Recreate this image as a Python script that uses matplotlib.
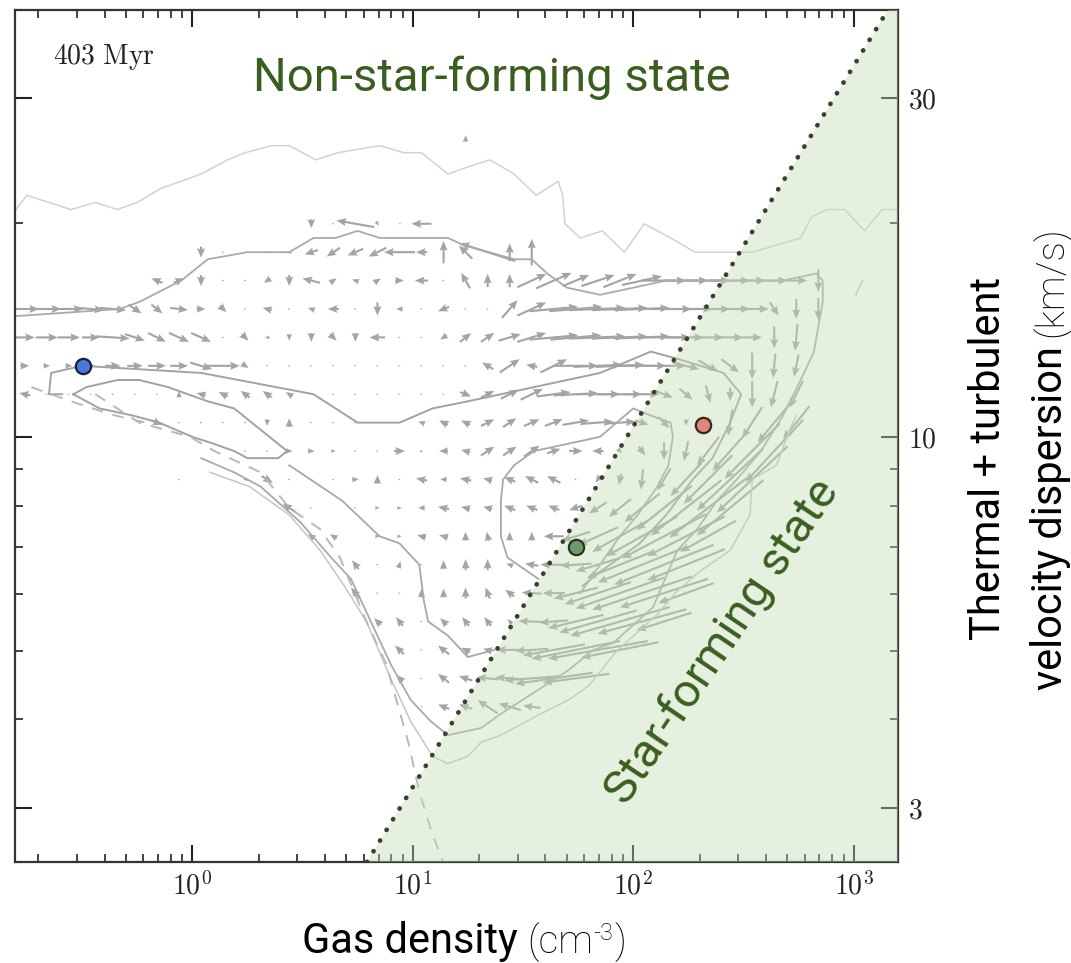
import numpy as np
import matplotlib
matplotlib.use('Agg')
import matplotlib.pyplot as plt
from matplotlib.ticker import FixedLocator, FixedFormatter, LogLocator, NullFormatter

plt.rcParams['font.family'] = ['Roboto', 'DejaVu Sans']
plt.rcParams['mathtext.fontset'] = 'cm'

W, H = 1071, 963

# axis ranges (cm^-3, km/s)
n_lim = (0.157, 1590)
sigma_lim = (2.52, 39.9)

# star-formation threshold, read where it meets the frame
threshold_n = [6.2, 1430]
threshold_sigma = [2.52, 39.9]

# tracked gas parcels
parcel_n = [0.32, 55, 208]
parcel_sigma = [12.6, 7.0, 10.4]
parcel_color = ['#4a78d8', '#6c9a69', '#e08878']
parcel_edge = ['#14203a', '#24351f', '#3a2420']

# density contours, (log10 n, log10 sigma)
contour_outer = [(-0.80, 1.32), (-0.75, 1.34), (-0.55, 1.32), (-0.44, 1.33), (-0.34, 1.32),
                 (-0.25, 1.33), (-0.14, 1.35), (0.04, 1.37), (0.16, 1.39), (0.24, 1.40),
                 (0.36, 1.41), (0.44, 1.41), (0.56, 1.39), (0.66, 1.40), (0.85, 1.41),
                 (0.96, 1.40), (1.04, 1.40), (1.16, 1.37), (1.25, 1.38), (1.35, 1.39),
                 (1.46, 1.37), (1.56, 1.34), (1.66, 1.36), (1.68, 1.34), (1.69, 1.30),
                 (1.76, 1.28), (1.86, 1.29), (1.96, 1.26), (2.05, 1.30), (2.17, 1.28),
                 (2.28, 1.26), (2.36, 1.26), (2.49, 1.26), (2.54, 1.26), (2.76, 1.28),
                 (2.81, 1.31), (2.88, 1.32), (2.96, 1.32), (3.05, 1.29), (3.13, 1.32), (3.20, 1.32)]
contour_outer_low = [(2.74, 1.03), (2.71, 1.01), (2.65, 0.96), (2.54, 0.94), (2.53, 0.89),
                     (2.44, 0.84), (2.30, 0.81), (2.19, 0.78), (2.11, 0.75), (1.93, 0.70),
                     (1.80, 0.65), (1.71, 0.63), (1.58, 0.61), (1.40, 0.58), (1.31, 0.57),
                     (1.25, 0.55), (1.16, 0.54), (1.09, 0.55), (0.99, 0.60), (0.90, 0.66),
                     (0.79, 0.74), (0.69, 0.79), (0.58, 0.84), (0.44, 0.89), (0.26, 0.93),
                     (0.08, 0.95)]
contour_outer_right = [(3.04, 1.22), (3.01, 1.20)]
contour_mid = [(-0.80, 1.17), (-0.33, 1.18), (-0.24, 1.19), (-0.05, 1.22), (0.07, 1.25),
               (0.25, 1.26), (0.44, 1.26), (0.55, 1.28), (0.65, 1.28), (0.75, 1.29),
               (0.85, 1.28), (1.16, 1.28), (1.23, 1.27), (1.46, 1.25), (1.54, 1.25),
               (1.61, 1.23), (1.70, 1.21), (1.85, 1.20), (2.00, 1.21), (2.15, 1.22),
               (2.30, 1.22), (2.50, 1.22), (2.68, 1.22), (2.83, 1.23), (2.86, 1.22),
               (2.86, 1.19), (2.82, 1.12), (2.76, 1.08), (2.68, 1.03), (2.58, 0.98),
               (2.47, 0.94), (2.38, 0.91), (2.29, 0.87), (2.20, 0.84), (2.09, 0.76),
               (1.91, 0.71), (1.82, 0.70), (1.70, 0.67), (1.55, 0.64), (1.40, 0.61),
               (1.31, 0.59), (1.16, 0.58), (1.08, 0.60), (0.99, 0.63), (0.90, 0.68),
               (0.81, 0.74), (0.72, 0.80), (0.63, 0.83), (0.49, 0.88), (0.31, 0.93),
               (0.19, 0.95), (0.04, 0.97)]
contour_inner = [(-0.59, 1.06), (-0.65, 1.06), (-0.64, 1.09), (-0.50, 1.10), (0.04, 1.09),
                 (0.55, 1.06), (0.75, 1.02), (0.94, 1.02), (1.09, 1.04), (1.25, 1.05),
                 (1.55, 1.07), (1.85, 1.09), (2.08, 1.12), (2.20, 1.11), (2.41, 1.09),
                 (2.49, 1.06), (2.44, 1.02), (2.36, 0.97), (2.27, 0.94), (2.15, 0.89),
                 (2.03, 0.85), (1.85, 0.81), (1.77, 0.79)]
contour_tongue = [(-0.54, 1.06), (-0.48, 1.07), (-0.34, 1.08), (-0.24, 1.08), (-0.11, 1.07),
                  (-0.02, 1.06), (0.07, 1.05), (0.19, 1.04), (0.31, 1.01), (0.39, 0.99),
                  (0.43, 0.98), (0.39, 0.97), (0.34, 0.97), (0.25, 0.97), (0.19, 0.98),
                  (0.10, 0.99), (0.00, 1.00), (-0.15, 1.02), (-0.27, 1.03), (-0.42, 1.04),
                  (-0.54, 1.06)]
contour_core = [(1.57, 0.80), (1.43, 0.83), (1.40, 0.86), (1.40, 0.91), (1.41, 0.94),
                (1.46, 0.96), (1.55, 0.98), (1.70, 0.99), (1.85, 1.00), (2.00, 1.04),
                (2.08, 1.03), (2.17, 1.02), (2.18, 1.00), (2.16, 0.96), (2.11, 0.93),
                (2.02, 0.89), (1.94, 0.86), (1.85, 0.82), (1.76, 0.78)]
contour_pocket = [(0.44, 0.96), (0.68, 0.91), (0.85, 0.86), (0.94, 0.85), (1.03, 0.82),
                  (1.05, 0.77), (1.07, 0.74), (1.16, 0.72), (1.25, 0.69), (1.37, 0.70)]
contour_dashed = [(-0.44, 1.06), (-0.24, 1.02), (-0.01, 1.00), (0.10, 0.98), (0.31, 0.95),
                  (0.44, 0.90), (0.58, 0.87), (0.67, 0.83), (0.79, 0.74), (0.88, 0.68),
                  (0.98, 0.57), (1.03, 0.50), (1.09, 0.44), (1.14, 0.40)]
contour_dashed_left = [(-0.73, 1.07), (-0.55, 1.05), (-0.35, 1.03), (-0.21, 1.02)]

# flow field: columns on log10 n, rows keyed by log10 sigma, (column, u, v) in cell units
flow_log_n = [-0.76, -0.66, -0.56, -0.46, -0.36, -0.26, -0.16, -0.06, 0.04, 0.14,
              0.24, 0.34, 0.44, 0.54, 0.64, 0.74, 0.84, 0.94, 1.04, 1.14,
              1.24, 1.34, 1.44, 1.54, 1.64, 1.74, 1.84, 1.94, 2.04, 2.14,
              2.24, 2.34, 2.44, 2.54, 2.64, 2.74, 2.84]
flow = {
    1.42: [(20, 0.0, 0.3)],
    1.30: [(13, 0.0, -0.4), (14, 0.1, 0.0), (15, -1.7, 0.3), (16, 0.1, -0.2), (17, -0.1, 0.0),
           (18, -0.9, 0.0)],
    1.26: [(8, 0.0, -0.5), (9, 0.1, 0.0), (10, -0.1, 0.0), (11, 0.1, 0.0), (12, -0.2, 0.0),
           (13, -0.6, -0.2), (14, -0.6, -0.4), (15, -0.7, -0.3), (16, -0.8, -0.4), (17, -1.4, 0.0),
           (18, -0.5, 0.0), (19, 0.0, 1.0), (20, -0.6, 0.6), (21, -2.5, 0.8), (22, 0.0, 0.8),
           (23, 0.0, 1.2)],
    1.22: [(6, -0.5, 0.2), (7, 0.5, 0.2), (8, 0.0, -0.5), (9, 0.1, 0.0), (10, 0.1, 0.0),
           (11, -0.3, -0.2), (12, 0.0, -0.5), (13, -0.8, 0.2), (14, 0.3, 0.2), (15, -0.3, 0.1),
           (16, 0.3, 0.2), (17, 0.4, 0.0), (18, -0.6, 0.0), (19, 0.1, 0.0), (20, -0.4, 0.7),
           (21, 0.0, 0.6), (22, 0.0, 0.6), (23, 1.3, 0.6), (24, 1.6, 0.7), (25, 1.2, 0.5),
           (26, 1.5, 0.5), (27, 1.5, 0.6), (28, 1.8, 0.4), (29, 2.0, 0.0), (30, 2.0, 0.0),
           (31, 2.0, 0.0), (32, 1.8, 0.0), (33, 1.2, 0.0), (34, 1.2, 0.0), (35, 1.0, 0.0),
           (36, 0.0, -1.0)],
    1.18: [(0, 1.3, 0.0), (1, 1.3, 0.0), (2, 1.3, 0.0), (3, 1.2, -0.1), (4, 1.2, -0.1),
           (5, 0.6, -0.4), (6, 0.5, -0.4), (7, 0.8, -0.1), (8, 0.4, 0.0), (9, 0.3, -0.3),
           (10, 0.1, 0.0), (11, -0.4, 0.1), (12, 0.1, 0.0), (13, -0.3, 0.1), (14, -0.5, 0.0),
           (15, 0.1, 0.0), (16, 0.0, -0.6), (17, -0.3, 0.0), (18, 0.1, 0.0), (19, -0.5, -0.2),
           (20, 0.1, 0.0), (21, 0.1, 0.0), (22, 0.7, 0.8), (23, 1.3, 0.6), (24, 2.2, 0.2),
           (25, 2.4, 0.2), (26, 2.5, 0.1), (27, 2.5, 0.1), (28, 2.5, 0.1), (29, 2.5, 0.0),
           (30, 2.4, 0.0), (31, 2.0, 0.0), (32, 1.8, 0.0), (33, 1.5, 0.0), (34, 0.4, -0.6),
           (35, 0.0, -0.9), (36, 0.0, -1.0)],
    1.14: [(0, 0.9, 0.0), (1, 1.0, 0.0), (2, 1.0, 0.0), (3, 0.8, 0.0), (4, 1.5, -0.1),
           (5, 0.9, -0.3), (6, 0.8, -0.4), (7, 0.9, -0.4), (8, 0.9, -0.4), (9, 0.1, 0.0),
           (10, 0.3, -0.3), (11, -0.2, 0.0), (12, 0.0, -0.3), (13, 0.0, -0.4), (14, 0.3, -0.3),
           (15, 0.0, -0.4), (16, -0.7, 0.0), (17, 0.1, 0.0), (18, 0.1, 0.0), (19, -0.3, -0.2),
           (20, 0.5, 0.4), (21, 0.6, 0.4), (22, 1.0, 0.3), (23, 1.3, 0.4), (24, 2.2, 0.2),
           (25, 2.3, 0.2), (26, 2.5, 0.1), (27, 2.5, 0.1), (28, 2.5, 0.1), (29, 2.4, 0.0),
           (30, 1.6, 0.0), (31, 1.4, 0.0), (32, 1.2, 0.0), (33, 0.9, 0.0), (34, 0.0, -1.0),
           (35, -0.1, -1.2)],
    1.10: [(0, 0.4, 0.0), (1, 0.3, 0.0), (2, 0.3, 0.0), (3, 0.4, 0.0), (4, 0.7, 0.0),
           (5, 0.7, 0.0), (6, 0.8, 0.0), (7, 0.8, 0.0), (8, 1.0, -0.3), (9, 1.5, 0.0),
           (10, 0.3, -0.2), (11, 0.1, 0.0), (12, 0.1, 0.0), (13, 0.1, 0.0), (14, 0.1, 0.0),
           (15, 0.1, 0.0), (16, 0.1, 0.0), (17, 0.1, 0.0), (18, 0.1, 0.0), (19, 0.1, 0.0),
           (20, 0.1, 0.0), (21, -0.5, 0.3), (22, 0.9, 0.6), (23, -0.5, 0.1), (24, 1.2, 0.6),
           (25, 2.0, 0.0), (26, 2.2, 0.1), (27, 2.2, 0.1), (28, 2.2, 0.0), (29, 2.0, 0.0),
           (30, 1.2, -0.3), (31, 0.9, -0.5), (32, 0.8, -0.6), (33, 0.0, -1.2), (34, -0.1, -1.1),
           (35, -0.2, -1.0)],
    1.06: [(0, -0.5, 0.1), (1, 0.1, 0.0), (2, 0.1, 0.0), (3, 0.1, 0.0), (4, 0.1, 0.0),
           (5, 0.1, 0.0), (6, 0.1, 0.0), (7, 0.0, 0.3), (8, -0.4, 0.1), (9, -0.4, 0.2),
           (10, -0.4, 0.3), (11, -0.4, 0.3), (12, -0.3, 0.2), (13, 0.1, 0.0), (14, 0.1, 0.0),
           (15, 0.1, 0.0), (16, 0.1, 0.0), (17, 0.1, 0.0), (18, 0.1, 0.0), (19, 0.1, 0.0),
           (20, 0.5, -0.2), (21, 0.6, 0.3), (22, 0.8, 0.4), (23, 1.0, 0.5), (24, 1.5, 0.2),
           (25, 2.0, 0.1), (26, 2.0, 0.0), (27, 2.0, 0.0), (28, 1.6, 0.0), (29, 0.8, -0.3),
           (30, 0.6, -0.5), (31, 0.2, -0.8), (32, 0.0, -0.6), (33, 0.0, -1.2), (34, -0.3, -1.2),
           (35, -0.6, -1.2)],
    1.02: [(6, 0.5, -0.2), (7, 0.1, 0.0), (8, 0.1, 0.0), (9, 0.1, 0.0), (10, 0.1, 0.0),
           (11, 0.0, -0.3), (12, 0.0, 0.4), (13, 0.1, 0.0), (14, 0.1, 0.0), (15, 0.1, 0.0),
           (16, 0.1, 0.0), (17, 0.1, 0.0), (18, -0.3, 0.1), (19, -0.4, 0.2), (20, -0.4, 0.2),
           (21, 0.6, 0.3), (22, 0.6, 0.4), (23, 0.7, 0.3), (24, 0.8, 0.3), (25, 1.2, 0.2),
           (26, 1.4, 0.1), (27, 1.4, 0.1), (28, 0.6, -0.2), (29, 0.5, -0.5), (30, 0.0, -0.3),
           (31, 0.0, -0.5), (32, -0.2, -1.2), (33, -0.9, -1.4), (34, -1.5, -1.8), (35, -1.2, -1.5)],
    0.98: [(10, 0.1, 0.0), (11, 0.1, 0.0), (12, 0.3, 0.0), (13, 0.3, 0.0), (14, 0.2, 0.0),
           (15, 0.1, 0.0), (16, 0.1, 0.0), (17, 0.5, 0.0), (18, 0.1, 0.1), (19, -0.4, 0.0),
           (20, -0.4, 0.1), (21, 0.6, 0.4), (22, 0.6, 0.4), (23, 0.7, 0.5), (24, 0.6, 0.2),
           (25, 0.6, 0.0), (26, -0.5, 0.0), (27, 0.2, -0.2), (28, 0.3, -0.4), (29, 0.0, -0.8),
           (30, -0.2, -0.9), (31, -1.0, -1.3), (32, -1.6, -1.8), (33, -2.5, -2.5), (34, -2.6, -2.8)],
    0.94: [(7, 0.1, 0.0), (10, -0.2, 0.0), (11, 0.5, -0.3), (12, 0.1, 0.0), (13, 0.1, 0.0),
           (14, 0.1, 0.0), (15, 0.3, 0.0), (16, 0.0, 0.4), (17, 0.1, 0.0), (18, -0.5, 0.1),
           (19, -0.3, 0.0), (20, -0.5, 0.1), (21, -0.4, 0.1), (22, -0.5, 0.2), (23, -0.6, 0.3),
           (24, -0.6, 0.3), (25, 0.1, 0.0), (26, -0.2, -0.3), (27, -0.1, -0.5), (28, -0.1, -0.9),
           (29, -0.6, -1.0), (30, -1.4, -1.5), (31, -2.2, -2.2), (32, -3.0, -2.8), (33, -3.2, -3.0)],
    0.90: [(12, -0.6, 0.4), (13, 0.1, 0.0), (15, 0.1, 0.0), (16, 0.2, 0.0), (17, 0.2, 0.0),
           (18, -0.3, 0.0), (19, -0.5, 0.1), (20, -0.4, 0.1), (21, -0.4, 0.1), (22, -0.5, 0.2),
           (23, -0.5, 0.2), (24, -0.5, 0.2), (25, -0.6, -0.2), (26, -0.8, -0.5), (27, -1.0, -0.8),
           (28, -1.6, -1.3), (29, -2.5, -2.0), (30, -3.2, -2.5), (31, -3.5, -2.7), (32, -3.0, -2.5)],
    0.86: [(13, -0.3, 0.2), (14, -0.3, 0.2), (16, 0.2, 0.0), (17, 0.2, 0.0), (18, -0.4, 0.1),
           (19, -0.4, 0.1), (20, 0.0, 0.4), (21, -0.1, 0.4), (22, 0.0, 0.4), (23, 0.0, 0.4),
           (24, -0.9, 0.0), (25, -1.3, -0.4), (26, -1.8, -0.8), (27, -2.5, -1.4), (28, -3.2, -1.8),
           (29, -3.8, -2.0), (30, -3.5, -1.8), (31, -2.5, -1.4)],
    0.82: [(15, -0.3, 0.4), (16, 0.1, 0.0), (17, 0.1, 0.3), (18, 0.1, 0.0), (19, 0.0, 0.4),
           (20, 0.0, 0.5), (21, 0.0, 0.5), (22, -0.3, 0.1), (23, -0.6, 0.1), (24, -1.2, 0.0),
           (25, -1.4, -0.1), (26, -2.0, -0.6), (27, -3.0, -1.2), (28, -4.0, -1.6), (29, -4.5, -1.8),
           (30, -3.5, -1.4)],
    0.78: [(15, -0.4, 0.5), (16, 0.1, 0.0), (17, 0.1, 0.0), (18, 0.0, 0.4), (19, 0.0, 0.4),
           (20, 0.0, 0.5), (21, -0.2, 0.5), (22, -0.4, 0.3), (23, -0.9, 0.05), (24, -1.0, 0.0),
           (25, -2.0, -0.5), (26, -3.0, -1.0), (27, -4.0, -1.4), (28, -4.5, -1.5), (29, -4.0, -1.3),
           (30, -2.5, -0.9)],
    0.74: [(16, -0.3, 0.3), (17, -0.3, 0.4), (18, 0.1, 0.0), (19, -0.3, 0.3), (20, -0.3, 0.4),
           (21, -0.3, 0.4), (22, -0.2, 0.2), (23, -1.2, 0.05), (24, -1.3, -0.1), (25, -2.5, -0.6),
           (26, -3.5, -1.0), (27, -4.5, -1.3), (28, -4.0, -1.1), (29, -2.5, -0.8)],
    0.70: [(17, -0.4, 0.4), (18, 0.1, 0.0), (19, -0.5, 0.4), (20, -0.4, 0.2), (21, -0.4, 0.1),
           (22, -1.2, 0.0), (23, -1.5, -0.1), (24, -2.8, -0.5), (25, -4.0, -0.8), (26, -4.5, -0.8),
           (27, -3.5, -0.7)],
    0.66: [(17, -0.3, 0.3), (18, 0.1, 0.0), (19, -0.5, 0.4), (20, -0.6, 0.2), (21, -1.0, 0.1),
           (22, -1.3, 0.1), (23, -2.5, -0.2), (24, -3.5, -0.5), (25, -3.0, -0.4)],
    0.62: [(18, -0.1, 0.0), (19, -0.5, 0.2), (20, -0.6, 0.2), (21, -0.9, 0.6), (22, -1.0, 0.3),
           (23, -0.8, 0.1)],
}


def px(x):
    return x / W


def py(y):
    return 1 - y / H


fig = plt.figure(figsize=(W / 100, H / 100), dpi=100)
ax = fig.add_axes([px(15), py(862), (898 - 15) / W, (862 - 10) / H])
ax.set_xscale('log')
ax.set_yscale('log')
ax.set_xlim(n_lim)
ax.set_ylim(sigma_lim)

# velocity arrows
qx, qy, qu, qv = [], [], [], []
for log_s, cells in flow.items():
    for col, u, v in cells:
        qx.append(10 ** flow_log_n[col])
        qy.append(10 ** log_s)
        qu.append(u)
        qv.append(v)
ax.quiver(qx, qy, qu, qv, angles='uv', scale_units='width', scale=39.9, pivot='mid',
          width=0.0024, headwidth=3.8, headlength=4.5, headaxislength=4.0,
          color='#a4a4a4', zorder=2)

# contours
def draw_contour(pts, **kw):
    ln = [10 ** p[0] for p in pts]
    ls = [10 ** p[1] for p in pts]
    ax.plot(ln, ls, zorder=2, solid_joinstyle='round', **kw)

draw_contour(contour_outer, color='#d2d2d2', lw=1.1)
draw_contour(contour_outer_low, color='#c6c6c6', lw=1.1)
draw_contour(contour_outer_right, color='#c6c6c6', lw=1.1)
draw_contour(contour_mid, color='#aaaaaa', lw=1.3)
draw_contour(contour_inner, color='#a2a2a2', lw=1.4)
draw_contour(contour_tongue, color='#a2a2a2', lw=1.4)
draw_contour(contour_core, color='#a8a8a8', lw=1.3)
draw_contour(contour_pocket, color='#a8a8a8', lw=1.3)
draw_contour(contour_dashed, color='#b8b8b8', lw=1.4, dashes=(6, 5))
draw_contour(contour_dashed_left, color='#b8b8b8', lw=1.4, dashes=(6, 5))

# star-forming region, tinted over the flow field
ax.fill(threshold_n + [1e4, 1e4], threshold_sigma + [threshold_sigma[1], threshold_sigma[0]],
        color='#c2ddb0', alpha=0.41, lw=0, zorder=3)
ax.plot(threshold_n, threshold_sigma, color='#38432f', lw=3.4,
        linestyle=(0, (0.05, 2.6)), dash_capstyle='round', zorder=4)

for n, s, c, e in zip(parcel_n, parcel_sigma, parcel_color, parcel_edge):
    ax.plot(n, s, 'o', ms=11, mfc=c, mec=e, mew=1.6, zorder=5)

green = '#3a5e20'
ax.text(px(492), py(78), 'Non-star-forming state', transform=fig.transFigure,
        fontsize=34, color=green, ha='center', va='center')
ax.text(px(722), py(642), 'Star-forming state', transform=fig.transFigure,
        fontsize=34, color=green, ha='center', va='center', rotation=56,
        rotation_mode='anchor', zorder=6)
ax.text(px(104), py(57), r'$\mathrm{403\ Myr}$', transform=fig.transFigure,
        fontsize=20, color='#222222', ha='center', va='center')

# ticks
ax.xaxis.set_major_locator(FixedLocator([1, 10, 100, 1000]))
ax.xaxis.set_major_formatter(FixedFormatter([r'$10^{0}$', r'$10^{1}$', r'$10^{2}$', r'$10^{3}$']))
ax.xaxis.set_minor_locator(LogLocator(base=10, subs=(2, 3, 4, 5, 6, 7, 8, 9)))
ax.xaxis.set_minor_formatter(NullFormatter())
ax.yaxis.set_major_locator(FixedLocator([3, 10, 30]))
ax.yaxis.set_major_formatter(FixedFormatter([r'$3$', r'$10$', r'$30$']))
ax.yaxis.set_minor_locator(LogLocator(base=10, subs=(2, 4, 5, 6, 7, 8, 9)))
ax.yaxis.set_minor_formatter(NullFormatter())
ax.tick_params(which='both', direction='in', top=True, right=True, left=True, bottom=True,
               labelleft=False, labelright=True, colors='#222222', labelsize=20)
ax.tick_params(which='major', length=12, width=1.5, pad=7)
ax.tick_params(which='minor', length=6, width=1.2)
for sp in ax.spines.values():
    sp.set_linewidth(1.6)
    sp.set_color('#333333')

# axis labels, built from pieces so the units can be set lighter
fig.canvas.draw()
r = fig.canvas.get_renderer()

base_y = py(953)
t = fig.text(px(302), base_y, 'Gas density', fontsize=30, ha='left', va='baseline')
bb = t.get_window_extent(r)
t = fig.text((bb.x1 + 9) / W, base_y, '(cm', fontsize=28, fontweight='light',
             ha='left', va='baseline')
bb = t.get_window_extent(r)
t = fig.text((bb.x1 + 1) / W, base_y + 13 / H, '-3', fontsize=17, fontweight='light',
             ha='left', va='baseline')
bb = t.get_window_extent(r)
fig.text((bb.x1 + 1) / W, base_y, ')', fontsize=28, fontweight='light',
         ha='left', va='baseline')

fig.text(px(1000), py(640), 'Thermal + turbulent', fontsize=30, rotation=90,
         rotation_mode='anchor', ha='left', va='baseline')
t = fig.text(px(1062), py(690), 'velocity dispersion', fontsize=30, rotation=90,
             rotation_mode='anchor', ha='left', va='baseline')
bb = t.get_window_extent(r)
fig.text(px(1062), (bb.y1 + 9) / H, '(km/s)', fontsize=28, fontweight='light', rotation=90,
         rotation_mode='anchor', ha='left', va='baseline')

fig.savefig('out.png', dpi=100)
